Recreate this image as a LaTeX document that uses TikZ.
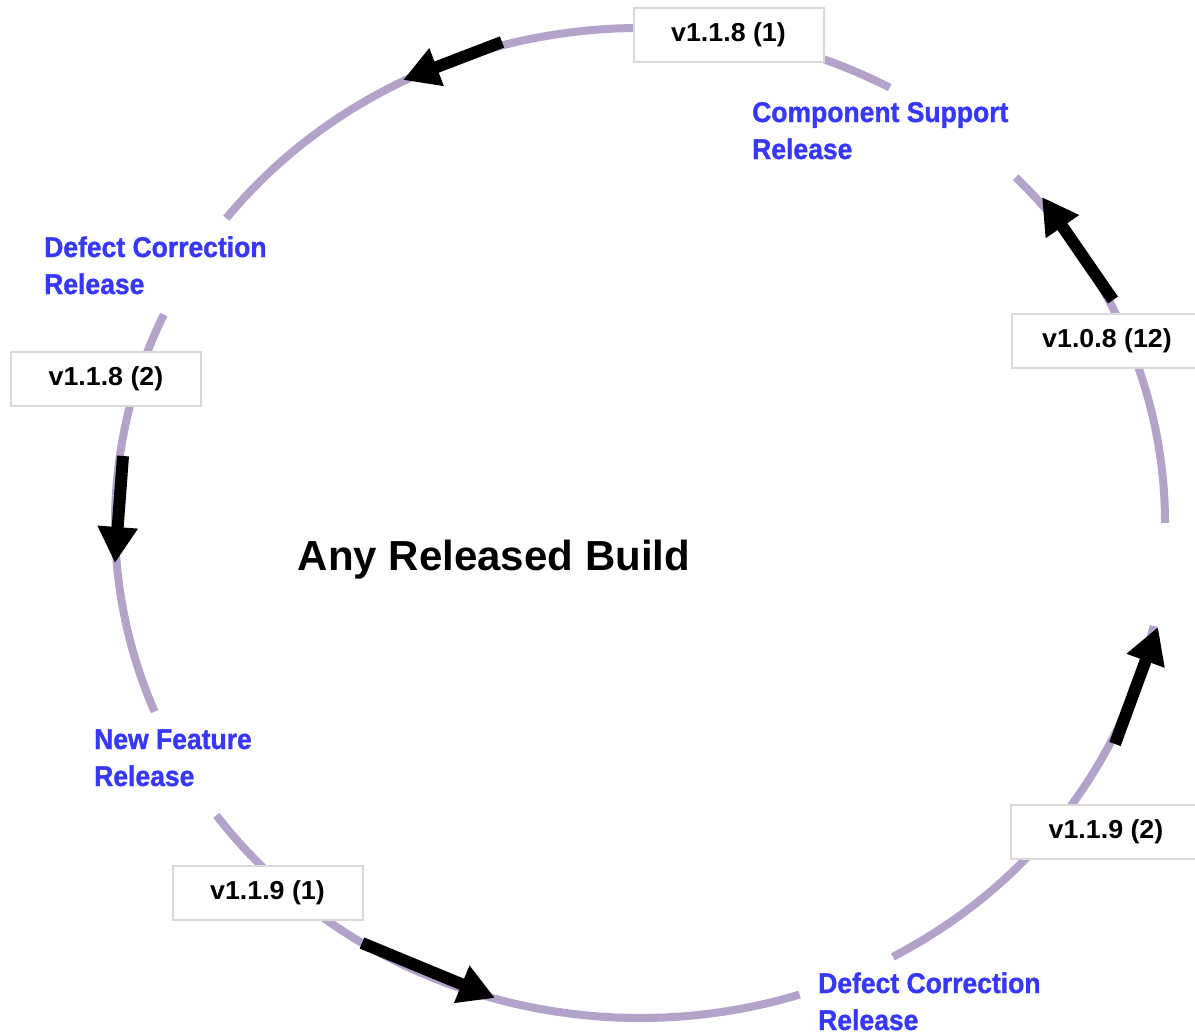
\documentclass[tikz,border=0pt]{standalone}
\usepackage{fontspec}
\setmainfont{Liberation Sans}
\newfontfamily\verfont{Liberation Sans Bold}[FakeStretch=1.03]
\newfontfamily\lblfont{Liberation Sans Bold}[FakeStretch=0.93,FakeBold=1.2]
\usetikzlibrary{arrows.meta}
\definecolor{ringc}{RGB}{179,162,201}
\definecolor{lblblue}{RGB}{55,55,250}
\definecolor{boxgray}{RGB}{217,217,217}
\tikzset{
  ring/.style={draw=ringc, line width=8pt},
  verbox/.style={draw=boxgray, line width=2pt, fill=white, minimum width=190pt, minimum height=54pt, inner sep=0pt,
    font=\verfont\fontsize{26}{30}\selectfont},
  phase/.style={text=lblblue, align=left, inner sep=0pt, anchor=base west,
    font=\lblfont\fontsize{28.5}{37}\selectfont},
  bigarrow/.style={line width=12pt, -{Triangle[length=36pt,width=38pt]}, black},
}
\begin{document}
\begin{tikzpicture}[x=1pt,y=-1pt]
\useasboundingbox (0,0) rectangle (1195,1036);
% ring segments (ellipse centre (640,523), rx 525, ry 495)
\coordinate (c) at (640,523);
\begin{scope}[yscale=-1]
\draw[ring] (640,-523) ++(0:525 and 495) arc[start angle=0, end angle=44.3, x radius=525, y radius=495];
\draw[ring] (640,-523) ++(61.6:525 and 495) arc[start angle=61.6, end angle=142, x radius=525, y radius=495];
\draw[ring] (640,-523) ++(155.1:525 and 495) arc[start angle=155.1, end angle=202.4, x radius=525, y radius=495];
\draw[ring] (640,-523) ++(216.2:525 and 495) arc[start angle=216.2, end angle=287.7, x radius=525, y radius=495];
\draw[ring] (640,-523) ++(298.8:525 and 495) arc[start angle=298.8, end angle=348, x radius=525, y radius=495];
\end{scope}
% arrows
\coordinate (a1s) at (502,42);   \coordinate (a1e) at (403,80);
\coordinate (a2s) at (123,456);  \coordinate (a2e) at (115,563);
\coordinate (a3s) at (362,943);  \coordinate (a3e) at (495,998);
\coordinate (a4s) at (1115,744); \coordinate (a4e) at (1158,627);
\coordinate (a5s) at (1113,300); \coordinate (a5e) at (1042,197);
\draw[bigarrow] (a1s) -- (a1e);
\draw[bigarrow] (a2s) -- (a2e);
\draw[bigarrow] (a3s) -- (a3e);
\draw[bigarrow] (a4s) -- (a4e);
\draw[bigarrow] (a5s) -- (a5e);
% version boxes
\node[verbox] (v1) at (728.5,34.5) {v1.1.8 (1)};
\node[verbox] (v2) at (106,379) {v1.1.8 (2)};
\node[verbox] (v3) at (1107,341) {v1.0.8 (12)};
\node[verbox] (v4) at (267.5,893) {v1.1.9 (1)};
\node[verbox] (v5) at (1106,832) {v1.1.9 (2)};
% phase labels (anchor = baseline of the last line)
\node[phase] (p1) at (752,159) {Component Support\\Release};
\node[phase] (p2) at (44,294) {Defect Correction\\Release};
\node[phase] (p3) at (94,786) {New Feature\\Release};
\node[phase] (p4) at (818,1030) {Defect Correction\\Release};
% centre
\node[font=\bfseries\fontsize{42}{48}\selectfont, anchor=base] (title) at (494,570) {Any Released Build};
\end{tikzpicture}
\end{document}
